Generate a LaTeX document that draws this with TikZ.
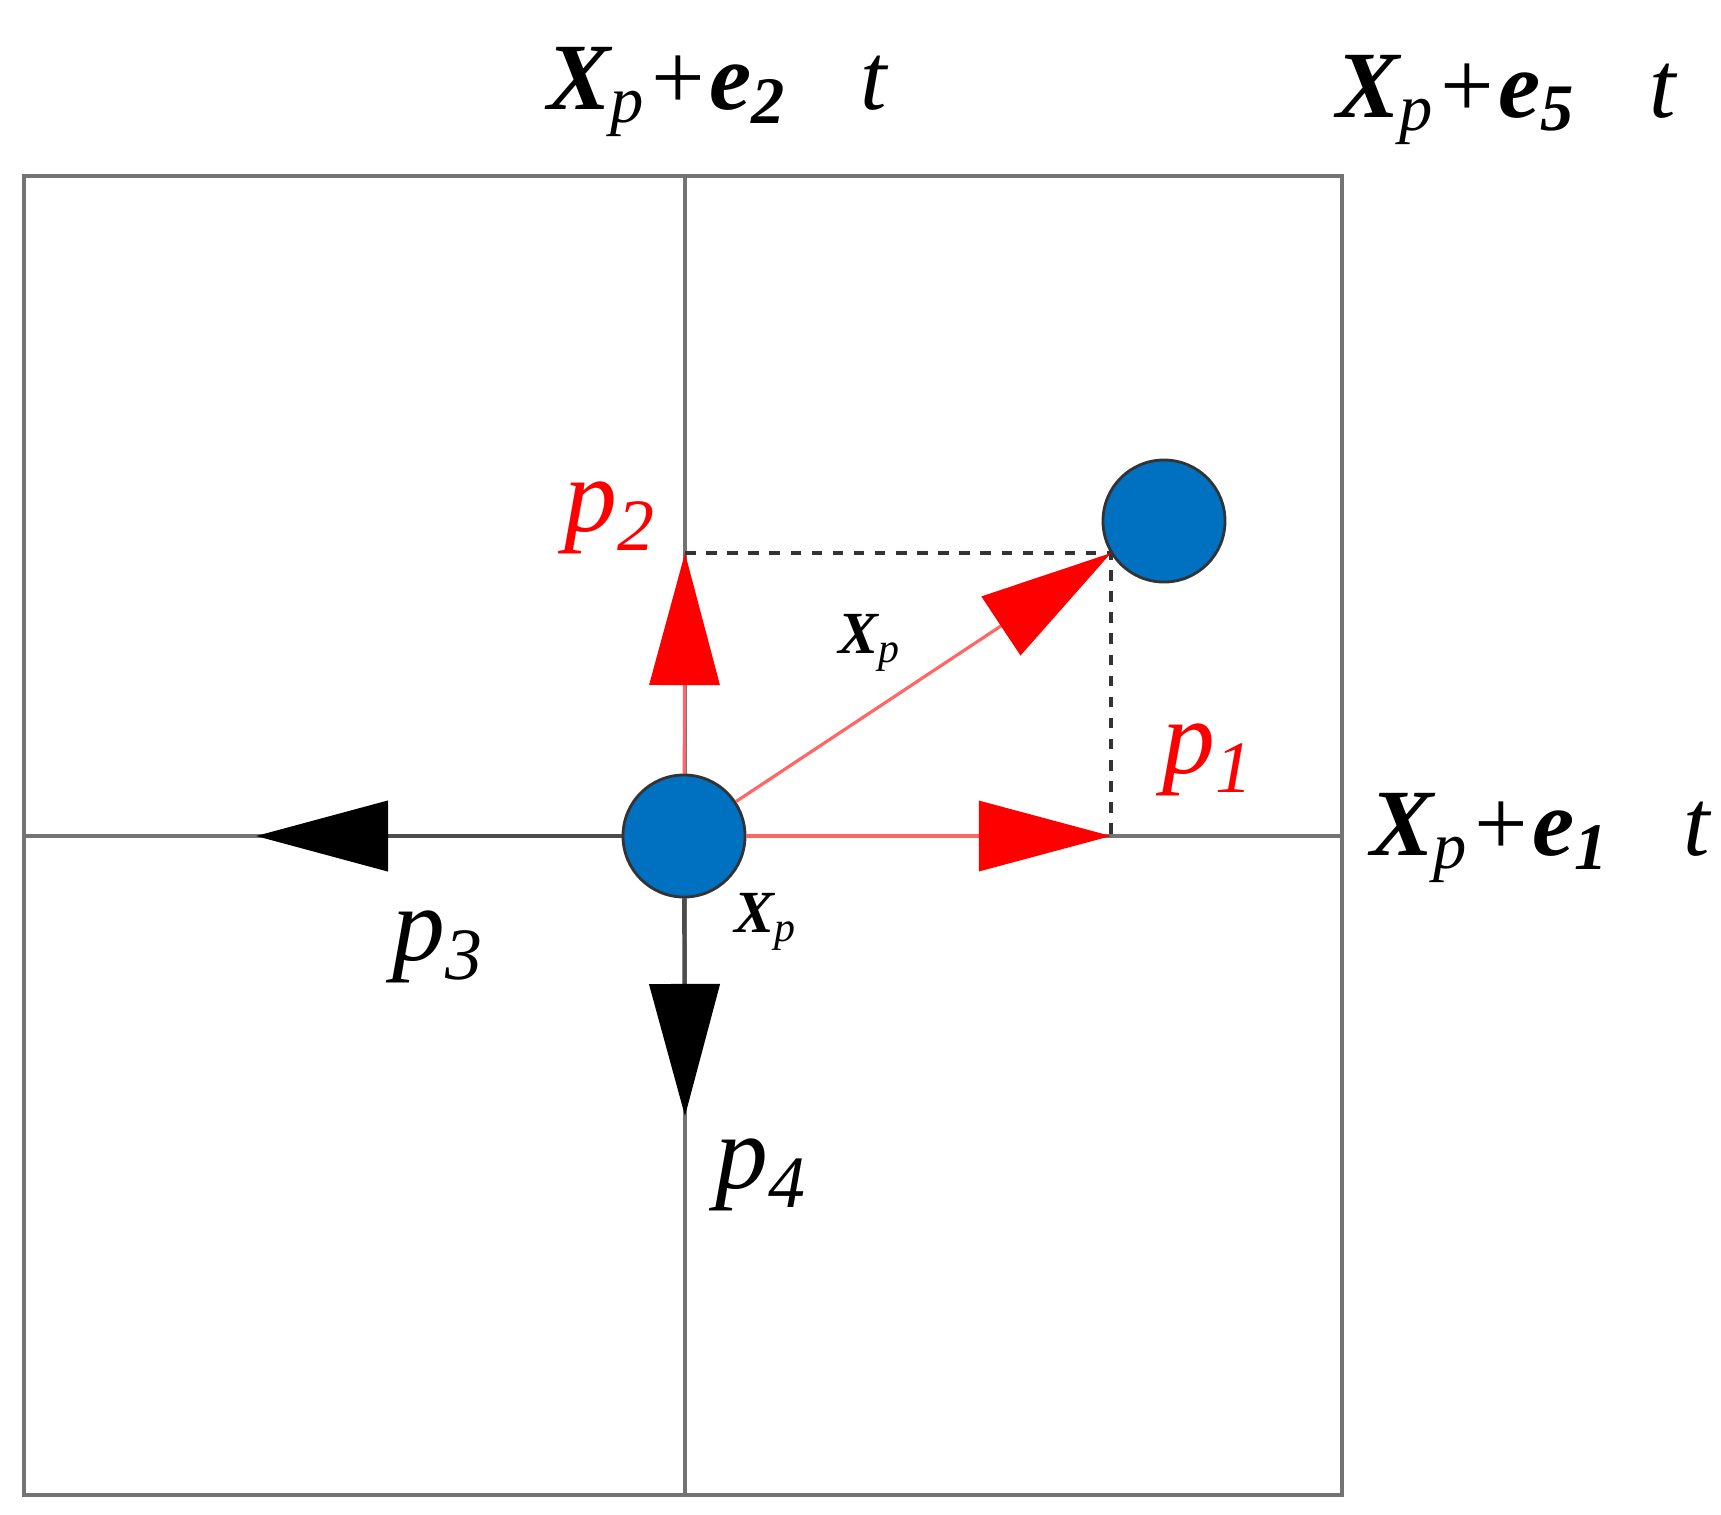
\documentclass[tikz,border=0pt]{standalone}
\usepackage{fontspec}
\setmainfont{Liberation Serif}
\usetikzlibrary{arrows.meta}
\begin{document}
\begin{tikzpicture}[x=0.01cm,y=-0.01cm,
  grid/.style={draw=black!55,line width=1.2pt},
  dot/.style={circle,draw=black!80,fill={rgb,255:red,0;green,112;blue,192},minimum size=1.22cm,inner sep=0pt,line width=0.8pt},
  rarrh/.style={draw=red!60,line width=0.9pt,-{Triangle[length=1.32cm,width=0.7cm,color=red]}},
  barrh/.style={draw=black!70,line width=1.2pt,-{Triangle[length=1.32cm,width=0.7cm,color=black]}},
  dsh/.style={draw=black!80,dashed,line width=0.9pt},
  lab/.style={font=\fontsize{30}{34}\selectfont\itshape},
  big/.style={font=\fontsize{27}{30}\selectfont\bfseries\itshape}]
\useasboundingbox (0,0) rectangle (1721,1514);
\draw[grid] (24,176) rectangle (1342,1495);
\draw[grid] (685,176) -- (685,1495);
\draw[grid] (24,836) -- (1342,836);
\coordinate (c2) at (685,553);
\coordinate (c1) at (1111,836);
\coordinate (cd) at (1111,553);
\coordinate (c3) at (256,836);
\coordinate (c4) at (685,1116);
\draw[dsh] (c2) -- (cd) -- (c1);
\node[dot] (a) at (684,836) {};
\node[dot] (b) at (1164,521) {};
\draw[rarrh] (a) -- (c1);
\draw[rarrh] (a) -- (c2);
\draw[rarrh] (a) -- (cd);
\draw[barrh] (a) -- (c3);
\draw[barrh] (a) -- (c4);
\node[lab,text=red] (p2) at (610,518) {p\textsubscript{2}};
\node[lab,text=red] (p1) at (1208,760) {p\textsubscript{1}};
\node[lab] (p3) at (438,947) {p\textsubscript{3}};
\node[lab] (p4) at (761,1175) {p\textsubscript{4}};
\node[font=\fontsize{17}{20}\selectfont\itshape] (dx) at (847,643) {$\mathit{\Delta}$\textbf{X}\textsubscript{p}};
\node[font=\fontsize{17}{20}\selectfont\bfseries\itshape] (xp) at (766,922) {X\textsubscript{\mdseries p}};
\node[big] (l2) at (717,92) {X\textsubscript{\mdseries p}\mdseries+\bfseries e\textsubscript{2}\mdseries$\mathit{\Delta}$t};
\node[big] (l5) at (1506,100) {X\textsubscript{\mdseries p}\mdseries+\bfseries e\textsubscript{5}\mdseries$\mathit{\Delta}$t};
\node[big] (l1) at (1540,838) {X\textsubscript{\mdseries p}\mdseries+\bfseries e\textsubscript{1}\mdseries$\mathit{\Delta}$t};
\end{tikzpicture}
\end{document}
